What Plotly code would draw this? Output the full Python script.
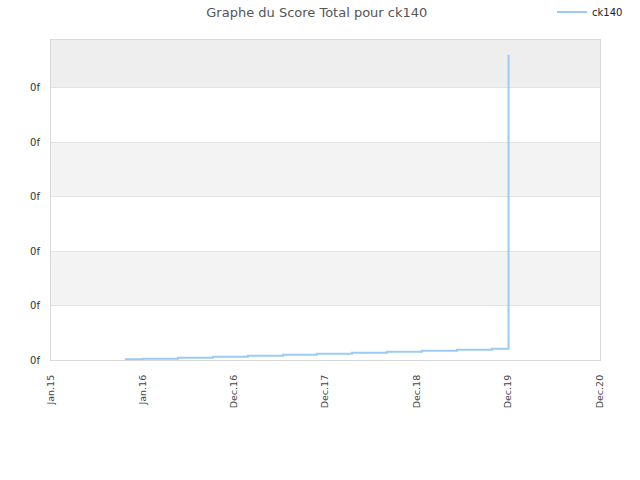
import plotly.graph_objects as go

# score total de ck140 (unités arbitraires)
dates = ["2015-10-23", "2016-01-03", "2016-05-22", "2016-10-08", "2017-02-25",
         "2017-07-15", "2017-11-27", "2018-04-16", "2018-09-03", "2019-01-20",
         "2019-06-09", "2019-10-27", "2020-01-01", "2020-01-01", "2020-01-01",
         "2020-01-01", "2020-01-01", "2020-01-01", "2020-01-01"]
scores = [0.13, 0.24, 0.42, 0.61, 0.79, 0.97, 1.16, 1.34, 1.53, 1.71,
          1.89, 2.08, 4.04, 8.09, 11.95, 18.0, 24.1, 38.05, 56.07]

x_tickvals = ["2015-01-01", "2016-01-01", "2016-12-31", "2017-12-31",
              "2018-12-31", "2019-12-31", "2020-12-31"]
x_ticktext = ["Jan.15", "Jan.16", "Dec.16", "Dec.17", "Dec.18", "Dec.19", "Dec.20"]
y_tickvals = [0, 10, 20, 30, 40, 50]
y_ticktext = ["0f"] * len(y_tickvals)

y_max = 58.8
x_range = ["2015-01-01", "2020-12-31"]

fig = go.Figure()
fig.add_trace(go.Scatter(x=dates, y=scores, mode="lines", name="ck140",
                         line=dict(color="#9ccaf4", width=2, shape="hv")))

# bandes grises alternées
bands = [(10, 20, "#f3f3f3"), (30, 40, "#f3f3f3"), (50, y_max, "#eeeeee")]
for y0, y1, col in bands:
    fig.add_shape(type="rect", xref="paper", yref="y", x0=0, x1=1, y0=y0, y1=y1,
                  fillcolor=col, line_width=0, layer="below")

fig.update_layout(
    width=640, height=480,
    margin=dict(l=51, r=40, t=40, b=120),
    paper_bgcolor="white", plot_bgcolor="white",
    font=dict(family="DejaVu Sans", size=10, color="#333333"),
    title=dict(text="Graphe du Score Total pour ck140", x=0.495, xanchor="center",
               y=1 - 12 / 480, yanchor="middle", font=dict(size=13, color="#555555")),
    showlegend=True,
    legend=dict(x=0.9126, y=1 - 12 / 480, xanchor="left", yanchor="middle",
                yref="container", orientation="h", itemwidth=30,
                font=dict(size=10, color="#222222"), bgcolor="rgba(0,0,0,0)"),
)
fig.update_xaxes(type="date", range=x_range, tickvals=x_tickvals, ticktext=x_ticktext,
                 tickangle=-90, showgrid=False, zeroline=False, showline=True,
                 mirror=True, linecolor="#d8d8d8", linewidth=1, ticks="",
                 ticklabelstandoff=10, tickfont=dict(size=9.5, color="#444444"))
fig.update_yaxes(range=[0, y_max], tickvals=y_tickvals, ticktext=y_ticktext,
                 showgrid=True, gridcolor="#e2e2e2", gridwidth=1, zeroline=False,
                 showline=True, mirror=True, linecolor="#d8d8d8", linewidth=1,
                 ticks="", ticklabelstandoff=8, tickfont=dict(size=10, color="#333333"))

fig.write_html("out.html", config={"displayModeBar": False},
               post_script="document.body.style.margin = '0';")
